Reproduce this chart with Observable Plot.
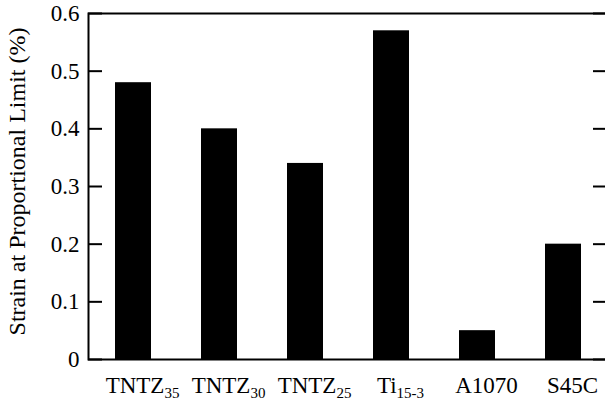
<!DOCTYPE html>
<html>
<head>
<meta charset="utf-8">
<script src="https://cdn.jsdelivr.net/npm/d3@7"></script>
<script src="https://cdn.jsdelivr.net/npm/@observablehq/plot@0.6"></script>
<style>
  html, body { margin: 0; padding: 0; background: #fff; }
  #chart { width: 605px; height: 403px; overflow: hidden; font-family: "Liberation Serif", serif; }
  #chart svg text, #chart svg tspan, svg[class^="plot"] text { font-family: "Liberation Serif", serif !important; }
</style>
</head>
<body>
<div id="chart"></div>
<script>
const categories = ["TNTZ35", "TNTZ30", "TNTZ25", "Ti15-3", "A1070", "S45C"];
const mainLabels = ["TNTZ", "TNTZ", "TNTZ", "Ti", "A1070", "S45C"];
const subLabels = ["35", "30", "25", "15-3", "", ""];
const strain = [0.48, 0.40, 0.34, 0.57, 0.05, 0.20];
const yTicks = [0, 0.1, 0.2, 0.3, 0.4, 0.5, 0.6];
const yTickLabels = ["0", "0.1", "0.2", "0.3", "0.4", "0.5", "0.6"];
const yLabel = "Strain at Proportional Limit (%)";

const data = categories.map((c, i) => ({category: c, value: strain[i]}));

const W = 605, H = 403;
const mL = 88, mR = -3, mT = 13, mB = 44;
const frameW = W - mL - mR;

const chart = Plot.plot({
  width: W,
  height: H,
  marginLeft: mL,
  marginRight: mR,
  marginTop: mT,
  marginBottom: mB,
  x: {domain: categories, paddingInner: 0.585, paddingOuter: 0.2925, label: null},
  y: {domain: [0, 0.6], label: null},
  marks: [
    Plot.barY(data, {x: "category", y: "value", fill: "#000"}),
    Plot.ruleY(yTicks, {y: d => d, stroke: "#000", strokeWidth: 2, insetRight: frameW - 14}),
    Plot.ruleY(yTicks, {y: d => d, stroke: "#000", strokeWidth: 2, insetLeft: frameW - 15}),
    Plot.frame({stroke: "#000", strokeWidth: 2}),
    Plot.axisY({ticks: yTicks, tickSize: 0, tickPadding: 9, fontSize: 23,
      tickFormat: d => yTickLabels[yTicks.indexOf(d)], label: null}),
    Plot.axisX({tickSize: 0, tickPadding: 17, fontSize: 23, dx: 9, label: null,
      tickFormat: d => categories.indexOf(d) >= 0 ? mainLabels[categories.indexOf(d)] + subLabels[categories.indexOf(d)] : d}),
    Plot.text([yLabel], {text: d => d, frameAnchor: "left", rotate: -90, dx: -71, dy: -5,
      lineAnchor: "middle", textAnchor: "middle", fontSize: 24, fill: "#000"})
  ]
});

// Render subscripts in x tick labels
d3.select(chart).selectAll('g[aria-label="x-axis tick label"] text').each(function() {
  const t = d3.select(this);
  const content = this.textContent;
  const i = categories.findIndex((c, k) => mainLabels[k] + subLabels[k] === content);
  if (i < 0) return;
  t.text(null);
  t.append("tspan").text(mainLabels[i]);
  if (subLabels[i]) {
    t.append("tspan").attr("font-size", 15).attr("dy", "0.35em").text(subLabels[i]);
  }
});

// Force a Times-like serif face on every text element
chart.setAttribute("font-family", "Liberation Serif");
chart.style.setProperty("font-family", "'Liberation Serif', serif", "important");
chart.querySelectorAll("g, text, tspan").forEach(el => {
  if (el.hasAttribute("font-family")) el.setAttribute("font-family", "Liberation Serif");
});
chart.querySelectorAll("text, tspan").forEach(el => {
  el.setAttribute("font-family", "Liberation Serif");
  el.style.setProperty("font-family", "'Liberation Serif', serif", "important");
});

document.getElementById("chart").appendChild(chart);
</script>
</body>
</html>
